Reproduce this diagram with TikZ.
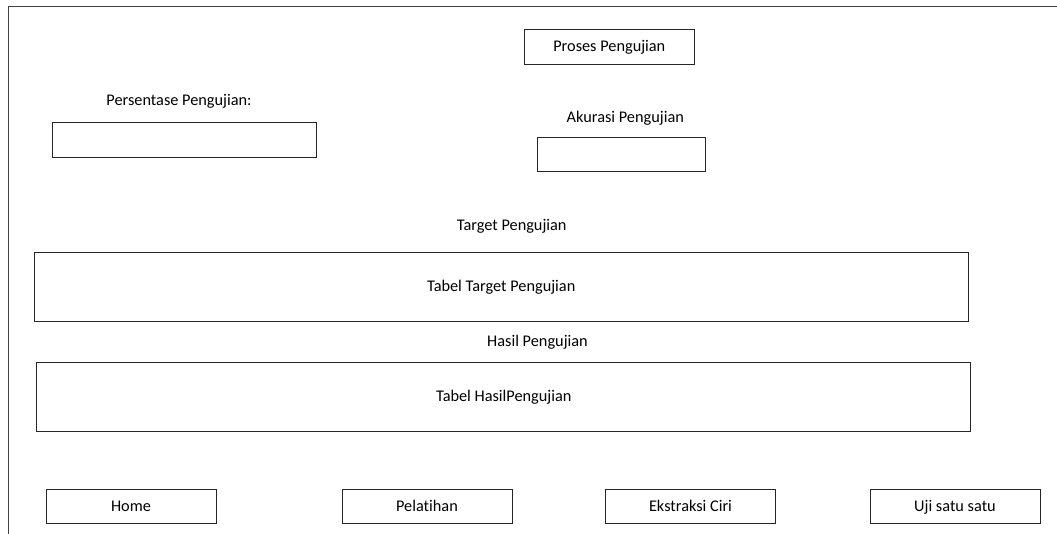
\documentclass[tikz,border=0pt]{standalone}
\usepackage{fontspec}
\setmainfont{Carlito}[Ligatures=NoCommon]
\usetikzlibrary{positioning}

\begin{document}
\begin{tikzpicture}[x=1pt,y=-1pt,
  every node/.style={font=\fontsize{16.3}{19}\selectfont, inner sep=0pt},
  kotak/.style={draw=black!85, line width=1pt, text height=12pt, text depth=2pt},
  tombol/.style={kotak, minimum width=170pt, minimum height=34pt}]

% Define canvas
\useasboundingbox (0,0) rectangle (1057,534);

% Construct window frame (only left and top edges are visible)
\coordinate (kiri) at (8.5,534);
\coordinate (atas) at (1057,6.5);
\draw[black!75, line width=1.3pt] (kiri) |- (atas);

% Construct process button
\node[kotak, minimum width=170pt, minimum height=35pt] (proses) at (609.3,46.7) {Proses Pengujian};

% Construct percentage field
\node[anchor=base] (lblpersen) at (179,106) {Persentase Pengujian:};
\node[kotak, minimum width=264pt, minimum height=35pt] (persen) at (184.7,139.8) {};

% Construct accuracy field
\node[anchor=base] (lblakurasi) at (625.3,122.7) {Akurasi Pengujian};
\node[kotak, minimum width=168pt, minimum height=34pt] (akurasi) at (621.7,154.2) {};

% Construct target table
\node[anchor=base] (lbltarget) at (511.7,230.7) {Target Pengujian};
\node[kotak, minimum width=934pt, minimum height=69pt] (target) at (501.2,287) {Tabel Target Pengujian};

% Construct result table
\node[anchor=base] (lblhasil) at (537.5,346.7) {Hasil Pengujian};
\node[kotak, minimum width=934pt, minimum height=69pt] (hasil) at (503.8,396.7) {Tabel HasilPengujian};

% Construct navigation buttons
\node[tombol] (home) at (131,506.3) {Home};
\node[tombol] (pelatihan) at (427,506.3) {Pelatihan};
\node[tombol] (ekstraksi) at (690.5,506.3) {Ekstraksi Ciri};
\node[tombol] (uji) at (955,506.3) {Uji satu satu};
\end{tikzpicture}
\end{document}
